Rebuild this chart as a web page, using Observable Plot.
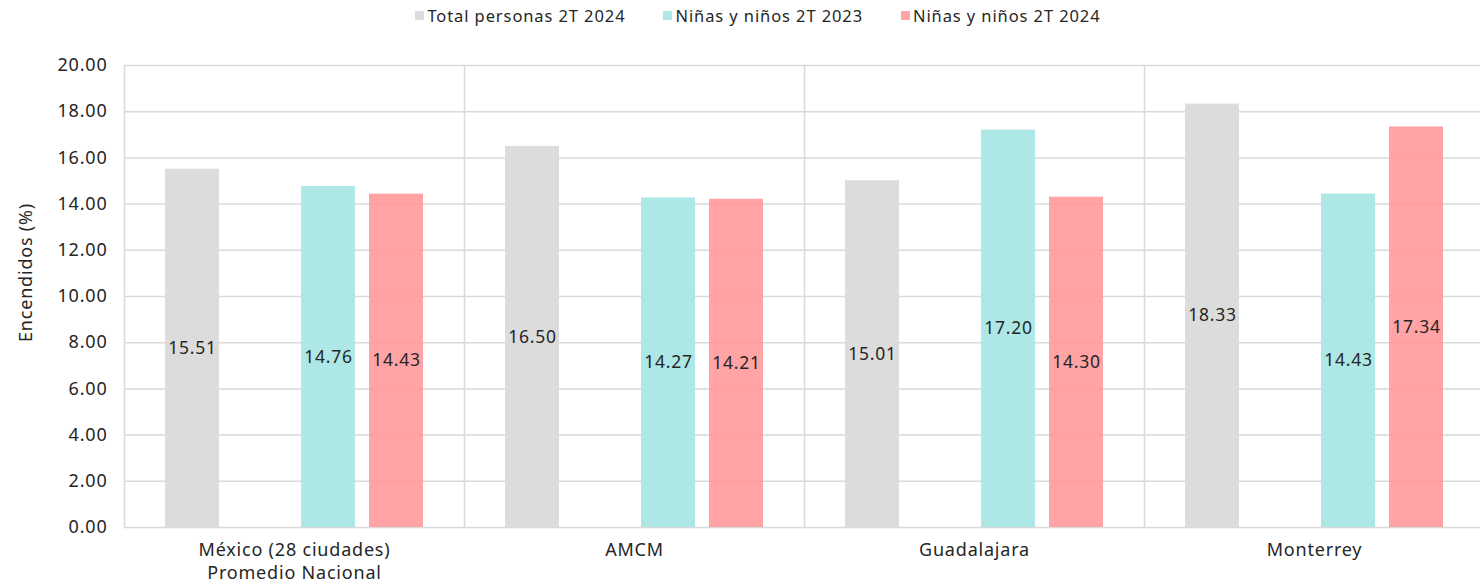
<!DOCTYPE html>
<html>
<head>
<meta charset="utf-8">
<script src="https://cdn.jsdelivr.net/npm/d3@7"></script>
<script src="https://cdn.jsdelivr.net/npm/@observablehq/plot@0.6"></script>
<style>
  html, body { margin: 0; padding: 0; background: #fff; }
  body { width: 1480px; height: 586px; overflow: hidden; font-family: "Noto Sans", sans-serif; color: #262626; }
  .legend { height: 30px; display: flex; justify-content: center; align-items: center; gap: 38px; font-size: 16.5px; letter-spacing: 0.9px; padding-left: 36px; box-sizing: border-box; }
  .legend .item { display: flex; align-items: center; }
  .legend .sw { width: 9px; height: 9px; margin-right: 3px; }
  svg { display: block; }
</style>
</head>
<body>
<div class="legend" id="legend"></div>
<div id="chart"></div>
<script>
// Cities (facets) and series
const cities = ["México (28 ciudades)\nPromedio Nacional", "AMCM", "Guadalajara", "Monterrey"];
const series = ["Total personas 2T 2024", "Niñas y niños 2T 2023", "Niñas y niños 2T 2024"];
// Values per city, one array per series
const totalPersonas2T2024 = [15.51, 16.50, 15.01, 18.33];
const ninos2T2023 = [14.76, 14.27, 17.20, 14.43];
const ninos2T2024 = [14.43, 14.21, 14.30, 17.34];
const colors = ["#dcdcdc", "#ade8e6", "#ff999b"];
const opacities = [1, 1, 0.9];
const yTicks = [0, 2, 4, 6, 8, 10, 12, 14, 16, 18, 20];
const yLabel = "Encendidos (%)";

// Slot order within each city: an empty slot sits between the total and the children series
const slots = [series[0], "sep", series[1], series[2]];

const valuesBySeries = [totalPersonas2T2024, ninos2T2023, ninos2T2024];
const data = [];
cities.forEach((city, i) => {
  series.forEach((s, j) => data.push({city, series: s, value: valuesBySeries[j][i], opacity: opacities[j]}));
});

// Legend
const legend = document.getElementById("legend");
series.forEach((s, j) => {
  const item = document.createElement("div");
  item.className = "item";
  const sw = document.createElement("span");
  sw.className = "sw";
  sw.style.background = colors[j];
  sw.style.opacity = opacities[j];
  const label = document.createElement("span");
  label.textContent = s;
  item.append(sw, label);
  legend.append(item);
});

const grid = "#d9d9d9";
const chart = Plot.plot({
  width: 1485,
  height: 556,
  marginTop: 35,
  marginBottom: 59,
  marginLeft: 123,
  marginRight: 0,
  style: {fontFamily: "'Noto Sans', sans-serif", fontSize: "17px", letterSpacing: "0.8px", color: "#262626", background: "#fff", maxWidth: "none"},
  fx: {domain: cities, padding: 0, label: null},
  x: {domain: slots, paddingInner: 0.2, paddingOuter: 0.59, axis: null},
  y: {domain: [0, 20]},
  color: {domain: series, range: colors},
  marks: [
    Plot.gridY(yTicks, {stroke: grid, strokeOpacity: 1, strokeWidth: 1.5}),
    Plot.frame({anchor: "left", stroke: grid, strokeWidth: 1.5}),
    Plot.barY(data, {fx: "city", x: "series", y: "value", fill: "series", fillOpacity: "opacity"}),
    Plot.text(data, {
      fx: "city", x: "series", y: d => d.value / 2,
      text: d => d.value.toFixed(2), fontSize: 17.5, fill: "#262626"
    }),
    Plot.axisY(yTicks, {
      tickSize: 0, tickPadding: 17, tickFormat: d => d.toFixed(2), fontSize: 18, label: null
    }),
    // Vertical axis title, drawn once beside the first city
    Plot.text([yLabel], {
      fx: [cities[0]], text: d => d, frameAnchor: "left", textAnchor: "middle", rotate: -90,
      dx: -98, dy: -24, fontSize: 18, fill: "#262626"
    }),
    Plot.axisFx({anchor: "bottom", tickSize: 0, tickPadding: 13, fontSize: 18, lineHeight: 1.25, label: null})
  ]
});
document.getElementById("chart").append(chart);
</script>
</body>
</html>
